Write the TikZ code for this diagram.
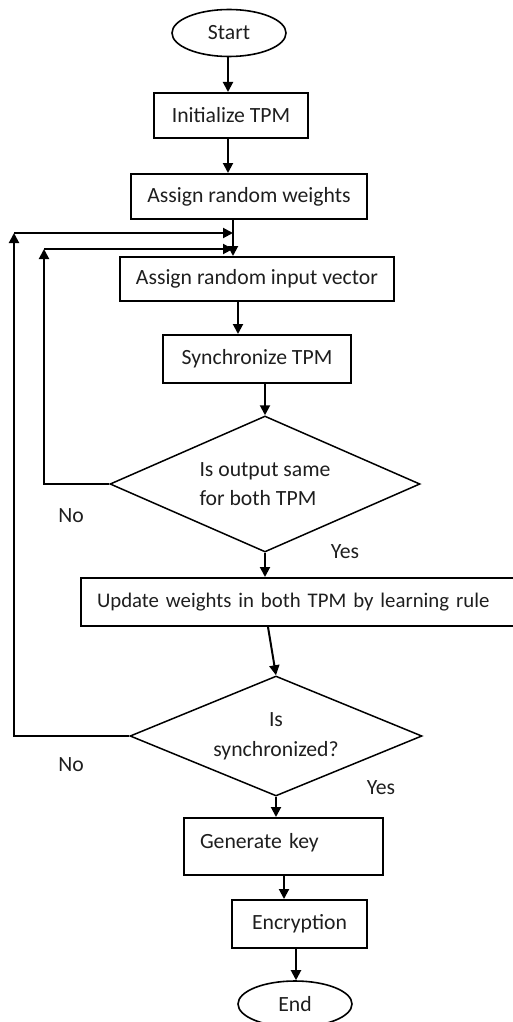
\documentclass[tikz,border=0pt]{standalone}
\usepackage{fontspec}
\setmainfont{Carlito}
\usetikzlibrary{shapes.geometric,arrows.meta}
\definecolor{txt}{HTML}{1E1E1E}
\tikzset{
  every node/.style={font=\fontsize{21.7}{29}\selectfont, text=txt},
  box/.style={draw=black, line width=2pt, rectangle, inner sep=0pt},
  oval/.style={draw=black, line width=1.6pt, ellipse, inner sep=0pt, minimum width=114pt, minimum height=47pt},
  decision/.style={draw=black, line width=1.5pt, diamond, inner sep=0pt},
  arr/.style={line width=2pt, -{Triangle[length=10pt,width=10pt]}},
  lbl/.style={inner sep=0pt}
}
\begin{document}
\begin{tikzpicture}[x=1pt,y=-1pt]
\useasboundingbox (0,0) rectangle (512,1022);
\node[oval] (start) at (229,33) {Start};
\node[box, minimum width=154pt, minimum height=45pt] (init) at (231,115.5) {Initialize TPM};
\node[box, minimum width=236pt, minimum height=45pt] (weights) at (249,196.5) {Assign random weights};
\node[box, minimum width=274pt, minimum height=44pt] (input) at (257,279) {Assign random input vector};
\node[box, minimum width=188pt, minimum height=48pt] (sync) at (257,359) {Synchronize TPM};
\node[decision, minimum width=310pt, minimum height=136pt, shape aspect=2.28, align=left] (d1) at (265,484) {Is output same\\for both TPM};
\node[box, minimum width=460pt, minimum height=48pt, text width=428pt, inner xsep=16pt, align=left, font=\fontsize{20.8}{29}\selectfont] (update) at (311,602) {Update weights in both TPM by learning rule};
\node[decision, minimum width=292pt, minimum height=120pt, shape aspect=2.43, align=center, font=\fontsize{21.7}{30}\selectfont] (d2) at (276,736) {Is\\synchronized?};
\node[box, minimum width=199pt, text width=167pt, inner xsep=16pt, text height=30pt, text depth=27pt, align=left] (gen) at (283.5,846.5) {Generate key};
\node[box, minimum width=135pt, minimum height=48pt] (enc) at (299.5,924) {Encryption};
\node[oval, minimum height=46pt] (end) at (295,1004) {End};

\node[lbl] (no1) at (71,516) {No};
\node[lbl] (yes1) at (345,552) {Yes};
\node[lbl] (no2) at (71,765) {No};
\node[lbl] (yes2) at (381,788) {Yes};

\coordinate (c1) at (44,249);
\coordinate (c2) at (14,233);
\coordinate (j1) at (233,233);
\coordinate (j2) at (233,249);

\draw[arr] (start.south -| 228,0) -- (init.north -| 228,0);
\draw[arr] (init.south -| 228,0) -- (weights.north -| 228,0);
\draw[arr] (weights.south -| 233,0) -- (input.north -| 233,0);
\draw[arr] (input.south -| 238,0) -- (sync.north -| 238,0);
\draw[arr] (sync.south -| d1.north) -- (d1.north);
\draw[arr] (d1.south) -- (update.north -| d1.south);
\draw[arr] (update.south -| 268,0) -- (d2.north);
\draw[arr] (d2.south) -- (gen.north -| d2.south);
\draw[arr] (gen.south -| 284,0) -- (enc.north -| 284,0);
\draw[arr] (enc.south -| 296,0) -- (end.north -| 296,0);

\draw[arr] (d1.west) -| (c1);
\draw[arr] (c1) -- (j2);
\draw[arr] (d2.west) -| (c2);
\draw[arr] (c2) -- (j1);
\end{tikzpicture}
\end{document}
